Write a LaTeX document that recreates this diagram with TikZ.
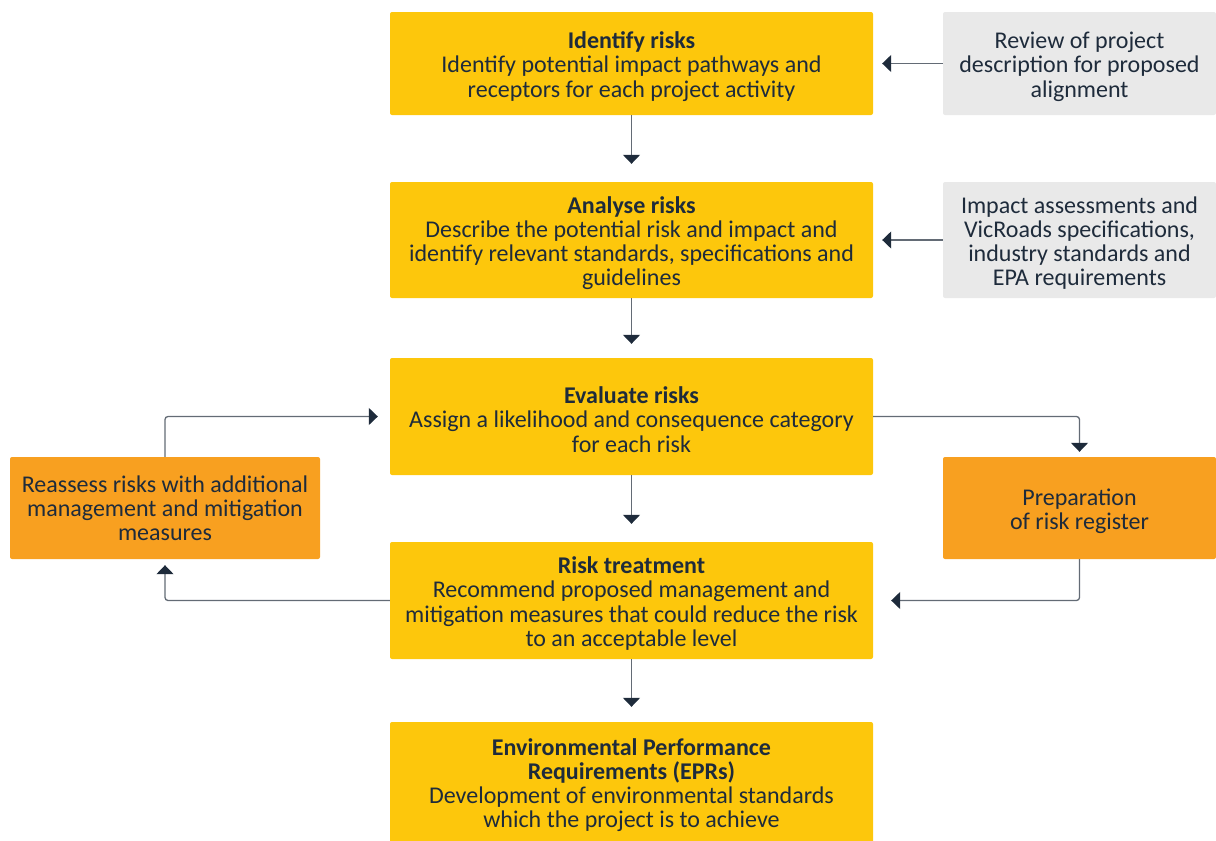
\documentclass[tikz,border=0pt]{standalone}
\usepackage{fontspec}
\setmainfont{Carlito}
\usetikzlibrary{arrows.meta}

\definecolor{stepyellow}{HTML}{FDC70C}
\definecolor{steporange}{HTML}{F8A020}
\definecolor{sidegrey}{HTML}{E9E9E9}
\definecolor{inkblue}{HTML}{1E2B3B}
\definecolor{linegrey}{HTML}{636B75}

% a bit more room above the first line of each box
\newcommand{\lift}{\rule{0pt}{23pt}}

\begin{document}
\begin{tikzpicture}[x=1pt,y=-1pt,
    box/.style={rounded corners=2pt, inner sep=0pt, align=center, text=inkblue,
      font=\fontsize{24}{24.2}\selectfont},
    stepbox/.style={box, fill=stepyellow, minimum width=483pt},
    sidebox/.style={box, fill=sidegrey, minimum width=273pt},
    loopbox/.style={box, fill=steporange},
    link/.style={draw=linegrey, line width=1.3pt, rounded corners=3pt,
      -{Triangle[length=9pt,width=17pt,color=inkblue]}}]
    \useasboundingbox (0,0) rectangle (1216,841);

    % main steps
    \node[stepbox, minimum height=103pt] (identify) at (631.5,63.5)
      {\lift\textbf{Identify risks}\\Identify potential impact pathways and\\receptors for each project activity};
    \node[stepbox, minimum height=116pt] (analyse) at (631.5,240)
      {\lift\textbf{Analyse risks}\\Describe the potential risk and impact and\\identify relevant standards, specifications and\\guidelines};
    \node[stepbox, minimum height=117pt] (evaluate) at (631.5,416.5)
      {\lift\textbf{Evaluate risks}\\Assign a likelihood and consequence category\\for each risk};
    \node[stepbox, minimum height=117pt] (treat) at (631.5,600.5)
      {\lift\textbf{Risk treatment}\\Recommend proposed management and\\mitigation measures that could reduce the risk\\to an acceptable level};
    \node[stepbox, minimum height=126pt] (epr) at (631.5,785)
      {\textbf{Environmental Performance}\\\textbf{Requirements (EPRs)}\\Development of environmental standards\\which the project is to achieve};

    % inputs on the right
    \node[sidebox, minimum height=103pt] (review) at (1079.5,63.5)
      {\lift Review of project\\description for proposed\\alignment};
    \node[sidebox, minimum height=116pt] (impact) at (1079.5,240)
      {\lift Impact assessments and\\VicRoads specifications,\\industry standards and\\EPA requirements};

    % loop boxes
    \node[loopbox, minimum width=310pt, minimum height=102pt] (reassess) at (165,508)
      {Reassess risks with additional\\management and mitigation\\measures};
    \node[loopbox, minimum width=273pt, minimum height=102pt] (register) at (1079.5,508)
      {\lift Preparation\\of risk register};

    \draw[link, shorten >=18pt] (identify) -- (analyse);
    \draw[link, shorten >=14pt] (analyse) -- (evaluate);
    \draw[link, shorten >=18pt] (evaluate) -- (treat);
    \draw[link, shorten >=15pt] (treat) -- (epr);

    \draw[link, shorten >=9pt] (review) -- (identify);
    \draw[link, shorten >=9pt] (impact) -- (analyse);

    \draw[link, shorten >=5pt] (evaluate.east) -| (register.north);
    \draw[link, shorten >=18pt] (register.south) |- (treat.east);
    \draw[link, shorten >=6pt] (treat.west) -| (reassess.south);
    \draw[link, shorten >=12pt] (reassess.north) |- (evaluate.west);
  \end{tikzpicture}
\end{document}
